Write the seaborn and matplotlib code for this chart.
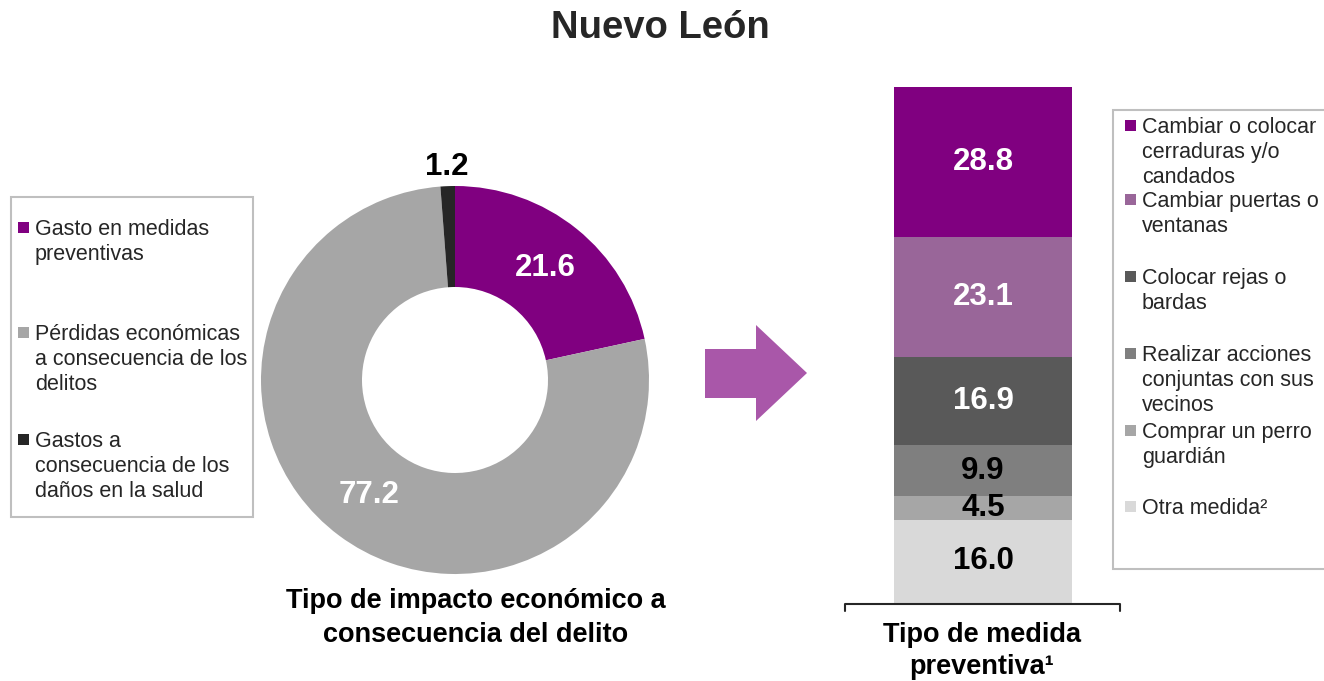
import matplotlib
matplotlib.use("Agg")
import matplotlib.pyplot as plt
from matplotlib.patches import Rectangle, Polygon
import numpy as np
import pandas as pd
import seaborn as sns

# --- datos: tipo de impacto economico (dona) ---
impacto = ["Gasto en medidas\npreventivas",
           "Pérdidas económicas\na consecuencia de los\ndelitos",
           "Gastos a\nconsecuencia de los\ndaños en la salud"]
impacto_pct = [21.6, 77.2, 1.2]
impacto_col = ["#800080", "#A6A6A6", "#262626"]
impacto_txt = ["white", "white", "black"]

# --- datos: tipo de medida preventiva (barra apilada, de arriba hacia abajo) ---
medidas = ["Cambiar o colocar\ncerraduras y/o\ncandados",
           "Cambiar puertas o\nventanas",
           "Colocar rejas o\nbardas",
           "Realizar acciones\nconjuntas con sus\nvecinos",
           "Comprar un perro\nguardián",
           "Otra medida²"]
medidas_pct = [28.8, 23.1, 16.9, 9.9, 4.5, 16.0]
medidas_col = ["#800080", "#996699", "#595959", "#7F7F7F", "#A6A6A6", "#D9D9D9"]
medidas_txt = ["white", "white", "white", "black", "black", "black"]

sns.set_theme(style="white")
plt.rcParams["font.family"] = ["Liberation Sans", "DejaVu Sans"]

W, H = 1324, 681
fig = plt.figure(figsize=(W / 100, H / 100), dpi=100)


def px_axes(left, top, width, height):
    # axes placed with pixel coords measured from the top-left corner
    return fig.add_axes([left / W, (H - top - height) / H, width / W, height / H])


# ---------- dona ----------
R = 194
cx, cy = 455, 380
lim = 1.25
ax1 = px_axes(cx - lim * R, cy - lim * R, 2 * lim * R, 2 * lim * R)
wedges, _ = ax1.pie(impacto_pct, colors=impacto_col, startangle=90,
                    counterclock=False, radius=1,
                    wedgeprops=dict(width=1 - 93 / 194, linewidth=0))
ax1.set_xlim(-lim, lim)
ax1.set_ylim(-lim, lim)
ax1.set_aspect("equal")
ax1.axis("off")
for w, v, c in zip(wedges, impacto_pct, impacto_txt):
    ang = np.deg2rad((w.theta1 + w.theta2) / 2)
    r = 1.1 if v < 5 else 0.74
    ax1.text(r * np.cos(ang), r * np.sin(ang), f"{v:.1f}", color=c,
             fontsize=22.5, fontweight="bold", ha="center", va="center")

# ---------- barra apilada ----------
cum = [sum(medidas_pct[i:]) for i in range(len(medidas_pct))]
df = pd.DataFrame({"pos": ["a"] * len(medidas), "medida": medidas,
                   "acum": cum, "valor": medidas_pct})
ax2 = px_axes(894, 87, 178, 516)
sns.barplot(data=df, x="pos", y="acum", hue="medida", hue_order=medidas,
            palette=dict(zip(medidas, medidas_col)), saturation=1,
            dodge=False, width=1, linewidth=0, legend=False, ax=ax2)
ax2.set_xlim(-0.5, 0.5)
ax2.set_ylim(0, cum[0])
ax2.axis("off")
for top, v, c in zip(cum, medidas_pct, medidas_txt):
    ax2.text(0, top - v / 2, f"{v:.1f}", color=c, fontsize=22.5,
             fontweight="bold", ha="center", va="center")

# ---------- capa de anotaciones en pixeles ----------
ov = fig.add_axes([0, 0, 1, 1])
ov.set_xlim(0, W)
ov.set_ylim(H, 0)
ov.axis("off")
ov.patch.set_alpha(0)

ov.text(660, 28, "Nuevo León", fontsize=27.5, fontweight="bold",
        color="#262626", ha="center", va="center")

ov.text(476, 618, "Tipo de impacto económico a\nconsecuencia del delito",
        fontsize=19.5, fontweight="bold", color="black", ha="center",
        va="center", linespacing=1.35)
ov.text(982, 651, "Tipo de medida\npreventiva¹", fontsize=19.5,
        fontweight="bold", color="black", ha="center", va="center",
        linespacing=1.25)

# flecha
ov.add_patch(Polygon([(705, 349), (756, 349), (756, 325), (807, 373),
                      (756, 421), (756, 398), (705, 398)],
                     closed=True, facecolor="#A957A9", edgecolor="none"))

# llave bajo la barra
ov.plot([845, 845, 1120, 1120], [611, 604, 604, 611], color="#262626", lw=1.5)

# leyendas
ov.add_patch(Rectangle((11, 197), 242, 320, facecolor="white",
                       edgecolor="#BFBFBF", lw=1.5))
left_y = [228, 333, 440]
for y, lab, c in zip(left_y, impacto, impacto_col):
    ov.add_patch(Rectangle((18, y - 6), 11, 11, facecolor=c, edgecolor="none"))
    ov.text(35, y - 9, lab, fontsize=15.5, color="#262626", ha="left",
            va="top", linespacing=1.25)

ov.add_patch(Rectangle((1113, 110), 230, 459, facecolor="white",
                       edgecolor="#BFBFBF", lw=1.5))
right_y = [126, 200, 277, 354, 431, 507]
for y, lab, c in zip(right_y, medidas, medidas_col):
    ov.add_patch(Rectangle((1125, y - 6), 11, 11, facecolor=c, edgecolor="none"))
    ov.text(1142, y - 9, lab, fontsize=15.5, color="#262626", ha="left",
            va="top", linespacing=1.25)

fig.savefig("out.png", dpi=100)
